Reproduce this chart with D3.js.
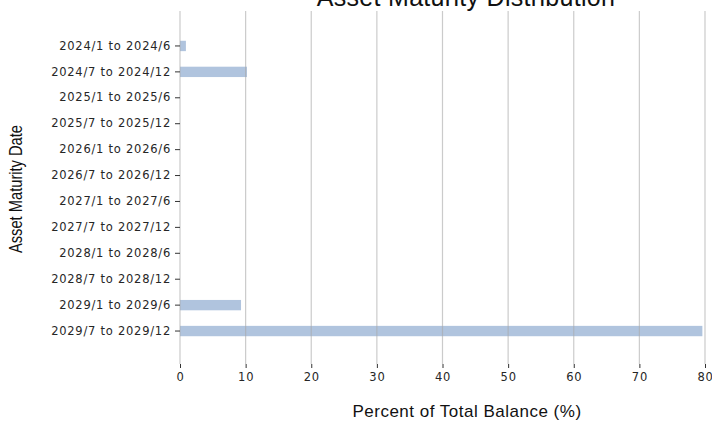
<!DOCTYPE html>
<html>
<head>
<meta charset="utf-8">
<script src="https://cdn.jsdelivr.net/npm/d3@7"></script>
<style>
  body { margin: 0; background: #fff; }
  svg { display: block; }
</style>
</head>
<body>
<svg id="chart" width="712" height="421"></svg>
<script>
// maturity buckets, top to bottom
const periods = [
  '2024/1 to 2024/6', '2024/7 to 2024/12',
  '2025/1 to 2025/6', '2025/7 to 2025/12',
  '2026/1 to 2026/6', '2026/7 to 2026/12',
  '2027/1 to 2027/6', '2027/7 to 2027/12',
  '2028/1 to 2028/6', '2028/7 to 2028/12',
  '2029/1 to 2029/6', '2029/7 to 2029/12'
];
const percents = [0.9, 10.2, 0, 0, 0, 0, 0, 0, 0, 0, 9.3, 79.6];
const xTicks = [0, 10, 20, 30, 40, 50, 60, 70, 80];

const svg = d3.select('#chart');

const x = d3.scaleLinear().domain([0, 80]).range([180, 705]);
const y = d3.scaleBand()
  .domain(periods)
  .range([33, 344])
  .paddingInner(0.6)
  .paddingOuter(0.3);

const rows = periods.map((p, i) => ({ period: p, value: percents[i] }));

// bars
svg.append('g')
  .selectAll('rect')
  .data(rows)
  .join('rect')
  .attr('x', x(0))
  .attr('y', d => y(d.period))
  .attr('width', d => x(d.value) - x(0))
  .attr('height', y.bandwidth())
  .attr('fill', '#b0c4de');

// vertical grid, drawn over the bars
svg.append('g')
  .selectAll('line')
  .data(xTicks)
  .join('line')
  .attr('x1', d => x(d)).attr('x2', d => x(d))
  .attr('y1', 11).attr('y2', 364)
  .attr('stroke', '#a8a8a8')
  .attr('stroke-opacity', 0.6)
  .attr('stroke-width', 1.2);

// x axis
const xAxis = d3.axisBottom(x).tickValues(xTicks).tickSize(4).tickPadding(5);
svg.append('g')
  .attr('transform', 'translate(0,364)')
  .call(xAxis)
  .attr('font-family', "'DejaVu Sans', sans-serif")
  .attr('font-size', 11.5)
  .call(g => g.select('.domain').remove())
  .call(g => g.selectAll('line').attr('stroke', '#333'))
  .call(g => g.selectAll('text')
    .attr('fill', '#262626')
    .style('letter-spacing', '0.8px'));

// y axis
const yAxis = d3.axisLeft(y).tickSize(5).tickPadding(4);
svg.append('g')
  .attr('transform', 'translate(180,0)')
  .call(yAxis)
  .attr('font-family', "'DejaVu Sans', sans-serif")
  .attr('font-size', 11.5)
  .call(g => g.select('.domain').remove())
  .call(g => g.selectAll('line').attr('stroke', '#333'))
  .call(g => g.selectAll('text')
    .attr('fill', '#262626')
    .style('letter-spacing', '0.75px'));

// title, partly cut at the top
svg.append('text')
  .attr('x', 466)
  .attr('y', 6)
  .attr('text-anchor', 'middle')
  .style('font-family', "'Liberation Sans', Arial, sans-serif")
  .style('font-size', '25px')
  .style('letter-spacing', '0.3px')
  .attr('fill', '#111')
  .text('Asset Maturity Distribution');

svg.append('text')
  .attr('x', 467)
  .attr('y', 417)
  .attr('text-anchor', 'middle')
  .style('font-family', "'Liberation Sans', Arial, sans-serif")
  .style('font-size', '17px')
  .style('letter-spacing', '0.5px')
  .attr('fill', '#111')
  .text('Percent of Total Balance (%)');

// y title: tall, condensed glyphs
svg.append('text')
  .attr('transform', 'translate(22,189) rotate(-90)')
  .attr('text-anchor', 'middle')
  .attr('textLength', 128)
  .attr('lengthAdjust', 'spacingAndGlyphs')
  .style('font-family', "'Liberation Sans', Arial, sans-serif")
  .style('font-size', '18px')
  .attr('fill', '#111')
  .text('Asset Maturity Date');
</script>
</body>
</html>
